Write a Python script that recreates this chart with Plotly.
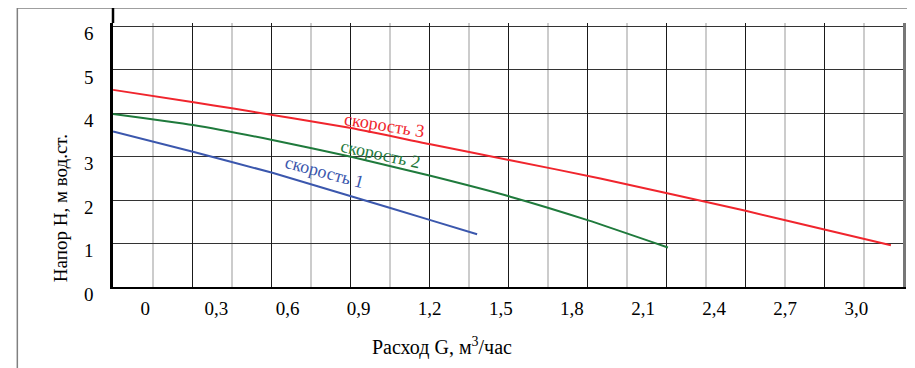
import plotly.graph_objects as go

# ---- data ----
flow_ticks = [0, 0.3, 0.6, 0.9, 1.2, 1.5, 1.8, 2.1, 2.4, 2.7, 3.0]
flow_tick_labels = ["0", "0,3", "0,6", "0,9", "1,2", "1,5", "1,8", "2,1", "2,4", "2,7", "3,0"]
head_ticks = [0, 1, 2, 3, 4, 5, 6]
head_tick_labels = ["0", "1", "2", "3", "4", "5", "6"]

speed1_flow = [-0.136, 0.201, 0.536, 0.868, 1.203, 1.400]
speed1_head = [3.58, 3.115, 2.63, 2.09, 1.54, 1.216]

speed2_flow = [-0.136, 0.201, 0.536, 0.868, 1.203, 1.54, 1.866, 2.205]
speed2_head = [3.985, 3.73, 3.386, 3.0, 2.56, 2.08, 1.54, 0.91]

speed3_flow = [-0.136, 0.204, 0.372, 0.868, 1.203, 1.54, 1.92, 2.533, 2.865, 3.146]
speed3_head = [4.54, 4.255, 4.11, 3.66, 3.286, 2.92, 2.50, 1.754, 1.325, 0.962]

series_names = ["скорость 1", "скорость 2", "скорость 3"]
series_colors = ["#3b57ad", "#1f7a3c", "#f0252d"]
label_flow = [0.755, 0.992, 1.008]
label_head = [2.64, 3.06, 3.73]
label_angle = [15, 12, 9]

x_title = "Расход G, м<sup>3</sup>/час"
y_title = "Напор Н, м вод.ст."

FONT = "Liberation Serif"

fig = go.Figure()
for fx, hy, name, col in zip([speed1_flow, speed2_flow, speed3_flow],
                             [speed1_head, speed2_head, speed3_head],
                             series_names, series_colors):
    fig.add_trace(go.Scatter(x=fx, y=hy, mode="lines", name=name,
                             line=dict(color=col, width=2, shape="spline", smoothing=0.5),
                             showlegend=False, hoverinfo="skip"))

# empty helper traces so the grid axis (x2) and right frame axis (y3) get drawn
fig.add_trace(go.Scatter(x=[], y=[], xaxis="x2", yaxis="y", showlegend=False, hoverinfo="skip"))
fig.add_trace(go.Scatter(x=[], y=[], xaxis="x", yaxis="y3", showlegend=False, hoverinfo="skip"))

annotations = []
for fx, hy, name, col, ang in zip(label_flow, label_head, series_names, series_colors, label_angle):
    annotations.append(dict(x=fx, y=hy, xref="x", yref="y", text=name, showarrow=False,
                            xanchor="center", yanchor="middle",
                            textangle=ang, font=dict(family=FONT, size=18, color=col)))
annotations.append(dict(x=0.4165, y=-0.225, xref="paper", yref="paper", text=x_title,
                        xanchor="center", yanchor="middle",
                        showarrow=False, font=dict(family=FONT, size=20, color="black")))
annotations.append(dict(x=-0.067, y=0.299, xref="paper", yref="paper", text=y_title,
                        xanchor="center", yanchor="middle",
                        textangle=-90, showarrow=False, font=dict(family=FONT, size=19, color="black")))

# the page adds an 8px body margin, so the figure is 8px smaller and margins 8px less
fig.update_layout(
    template="none",
    width=907, height=360,
    margin=dict(l=105, r=12, t=15, b=81, autoexpand=False),
    paper_bgcolor="white", plot_bgcolor="white",
    font=dict(family=FONT, size=19, color="black"),
    xaxis=dict(range=[-0.1363, 3.197], tickvals=flow_ticks, ticktext=flow_tick_labels,
               showgrid=False, zeroline=False, showline=True, linecolor="black", linewidth=2,
               ticks="", ticklabelstandoff=3, automargin=False,
               tickfont=dict(family=FONT, size=19, color="black")),
    xaxis2=dict(overlaying="x", anchor="y", side="bottom", range=[0, 20], tick0=0, dtick=2,
                showgrid=True, gridcolor="#1a1a1a", gridwidth=1.3, zeroline=False,
                showticklabels=False, ticks="", showline=False, automargin=False,
                minor=dict(dtick=1, tick0=0, showgrid=True, gridcolor="#cccccc", gridwidth=1.5)),
    yaxis=dict(range=[0, 6.08], tickvals=head_ticks, ticktext=head_tick_labels,
               showgrid=True, gridcolor="#333333", gridwidth=1.3, zeroline=False,
               showline=True, linecolor="black", linewidth=2.5, ticks="",
               ticklabelshift=7, ticklabelstandoff=13, automargin=False,
               tickfont=dict(family=FONT, size=19, color="black")),
    yaxis3=dict(overlaying="y", anchor="x", side="right", range=[0, 6.08],
                showgrid=False, zeroline=False, showticklabels=False, ticks="",
                showline=True, linecolor="#777777", linewidth=2.5, automargin=False),
    annotations=annotations,
    shapes=[
        dict(type="rect", xref="paper", yref="paper", x0=-0.1211, x1=2, y0=-2, y1=1.057,
             line=dict(color="#808080", width=1.5), fillcolor="rgba(0,0,0,0)", layer="below"),
        dict(type="line", xref="paper", yref="paper", x0=0, x1=0, y0=1, y1=1.057,
             line=dict(color="black", width=2.5)),
    ],
)

fig.write_html("out.html")
